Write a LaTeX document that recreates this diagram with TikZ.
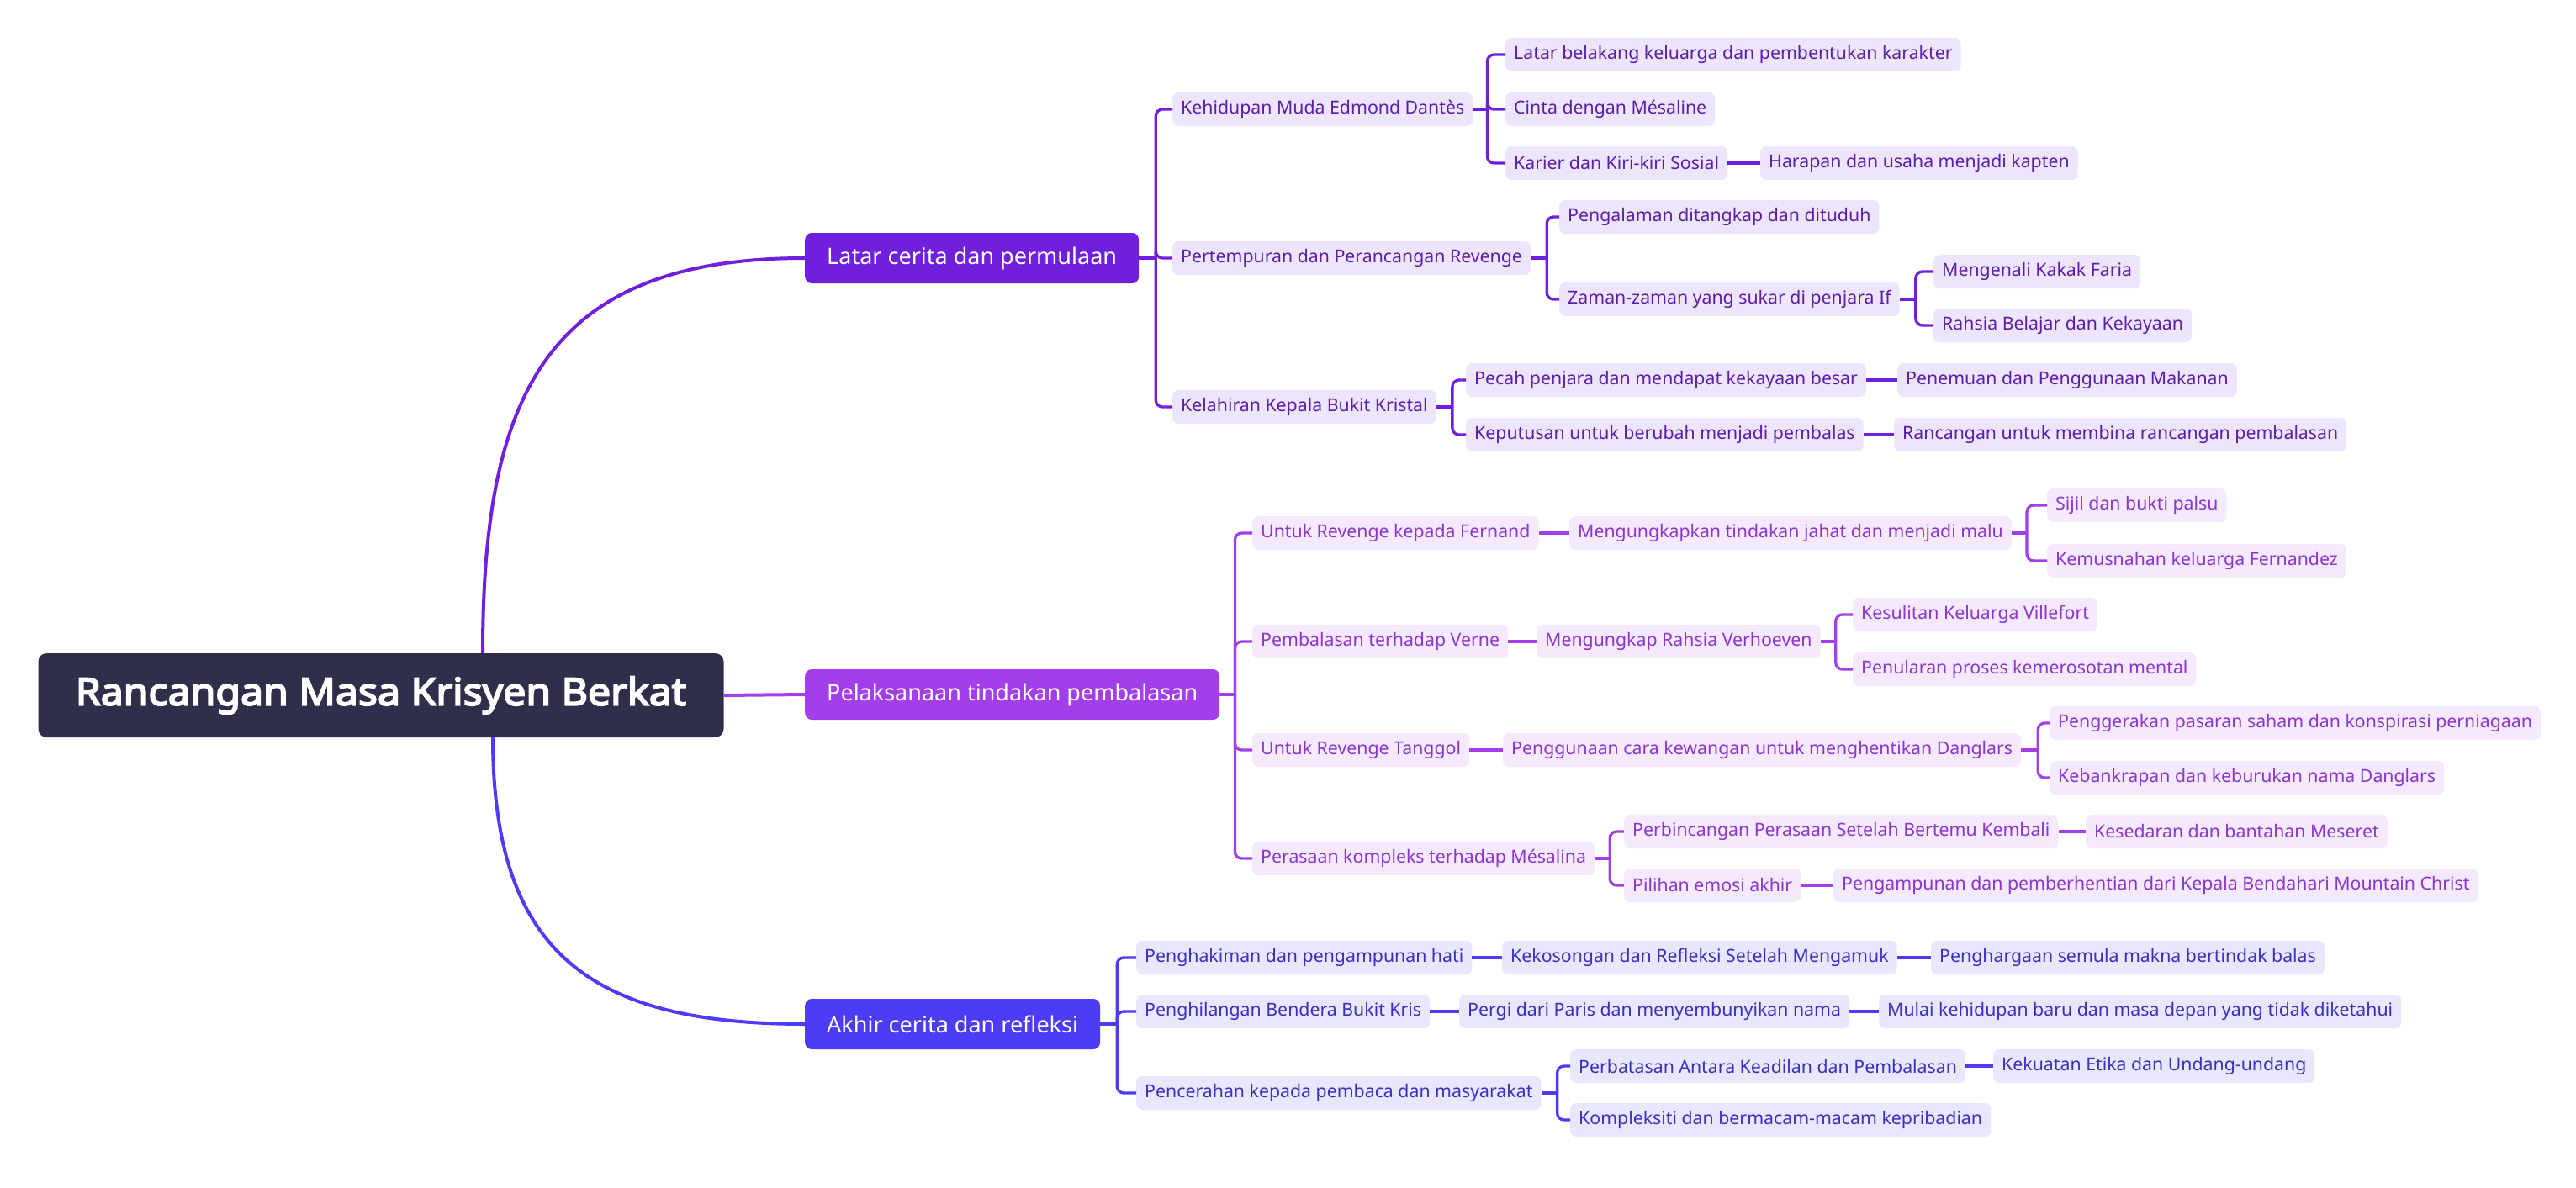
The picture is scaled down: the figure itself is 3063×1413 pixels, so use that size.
\documentclass[tikz,border=0pt]{standalone}
\usepackage{fontspec}
\setmainfont{Noto Sans}
\newfontfamily\rootfont{Noto Sans}[FakeBold=4, FakeStretch=1.07]
\usetikzlibrary{positioning}
\definecolor{rootbg}{HTML}{2F2F4B}
\definecolor{purA}{HTML}{7020DD}
\definecolor{purB}{HTML}{A23FEA}
\definecolor{purC}{HTML}{4D3CF5}
\definecolor{fillA}{HTML}{EDE5FB}
\definecolor{fillB}{HTML}{F4E9FD}
\definecolor{fillC}{HTML}{E9E7FD}
\definecolor{textA}{HTML}{5B1EA8}
\definecolor{textB}{HTML}{8B35CC}
\definecolor{textC}{HTML}{3A30C0}

\begin{document}
\begin{tikzpicture}[x=1pt, y=1pt,
  every node/.style={font=\fontsize{21.3}{25}\selectfont},
  rootbox/.style={fill=rootbg, text=white, rounded corners=10pt, minimum height=100pt,
    minimum width=815pt, font=\rootfont\fontsize{45}{52}\selectfont},
  topic/.style={fill=#1, text=white, rounded corners=8pt, minimum height=60pt,
    inner xsep=26pt, anchor=west, font=\fontsize{27}{32}\selectfont},
  leaf/.style={rounded corners=7pt, minimum height=40pt, inner xsep=10pt, anchor=west},
  leafA/.style={leaf, fill=fillA, text=textA},
  leafB/.style={leaf, fill=fillB, text=textB},
  leafC/.style={leaf, fill=fillC, text=textC},
  lineA/.style={draw=purA, line width=3.3pt},
  lineB/.style={draw=purB, line width=3.3pt},
  lineC/.style={draw=purC, line width=3.3pt},
  brA/.style={lineA, rounded corners=8pt},
  brB/.style={lineB, rounded corners=8pt},
  brC/.style={lineC, rounded corners=8pt}]
  \useasboundingbox (0,0) rectangle (3063,-1413);

  % root and main topics
  \node[rootbox] (root) at (453,-827) {Rancangan Masa Krisyen Berkat};
  \node[topic=purA] (latar) at (957,-307) {Latar cerita dan permulaan};
  \node[topic=purB] (pelaksanaan) at (957,-826) {Pelaksanaan tindakan pembalasan};
  \node[topic=purC] (akhir) at (957,-1218) {Akhir cerita dan refleksi};

  \draw[purA, line width=4pt] ([xshift=121pt]root.north) to[out=90, in=180, looseness=1.3] (latar.west);
  \draw[purB, line width=4pt] (root.east) -- (pelaksanaan.west);
  \draw[purC, line width=4pt] ([xshift=133pt]root.south) to[out=-90, in=180, looseness=1.3] (akhir.west);

  % branch 1
  \node[leafA] (kehidupan) at (1394,-130) {Kehidupan Muda Edmond Dantès};
  \node[leafA] (pertempuran) at (1394,-307) {Pertempuran dan Perancangan Revenge};
  \node[leafA] (kelahiran) at (1394,-484) {Kelahiran Kepala Bukit Kristal};
  \node[leafA] (latarbelakang) at (1790,-65) {Latar belakang keluarga dan pembentukan karakter};
  \node[leafA] (cinta) at (1790,-130) {Cinta dengan Mésaline};
  \node[leafA] (karier) at (1790,-194) {Karier dan Kiri-kiri Sosial};
  \node[leafA] (harapan) at (2093,-194) {Harapan dan usaha menjadi kapten};
  \node[leafA] (pengalaman) at (1854,-258) {Pengalaman ditangkap dan dituduh};
  \node[leafA] (zaman) at (1854,-356) {Zaman-zaman yang sukar di penjara If};
  \node[leafA] (faria) at (2299,-323) {Mengenali Kakak Faria};
  \node[leafA] (rahsia) at (2299,-387) {Rahsia Belajar dan Kekayaan};
  \node[leafA] (pecah) at (1743,-452) {Pecah penjara dan mendapat kekayaan besar};
  \node[leafA] (penemuan) at (2256,-452) {Penemuan dan Penggunaan Makanan};
  \node[leafA] (keputusan) at (1743,-517) {Keputusan untuk berubah menjadi pembalas};
  \node[leafA] (rancangan) at (2252,-517) {Rancangan untuk membina rancangan pembalasan};

  \draw[lineA] (latar.east) -- ++(20,0) coordinate (bA);
  \foreach \n in {kehidupan,pertempuran,kelahiran} \draw[brA] (bA) |- (\n.west);
  \draw[lineA] (kehidupan.east) -- ++(17,0) coordinate (bA1);
  \foreach \n in {latarbelakang,cinta,karier} \draw[brA] (bA1) |- (\n.west);
  \draw[lineA] (karier.east) -- (harapan.west);
  \draw[lineA] (pertempuran.east) -- ++(19,0) coordinate (bA2);
  \foreach \n in {pengalaman,zaman} \draw[brA] (bA2) |- (\n.west);
  \draw[lineA] (zaman.east) -- ++(19,0) coordinate (bA3);
  \foreach \n in {faria,rahsia} \draw[brA] (bA3) |- (\n.west);
  \draw[lineA] (kelahiran.east) -- ++(19,0) coordinate (bA4);
  \foreach \n in {pecah,keputusan} \draw[brA] (bA4) |- (\n.west);
  \draw[lineA] (pecah.east) -- (penemuan.west);
  \draw[lineA] (keputusan.east) -- (rancangan.west);

  % branch 2
  \node[leafB] (fernand) at (1489,-634) {Untuk Revenge kepada Fernand};
  \node[leafB] (mengungkapkan) at (1866,-634) {Mengungkapkan tindakan jahat dan menjadi malu};
  \node[leafB] (sijil) at (2434,-601) {Sijil dan bukti palsu};
  \node[leafB] (kemusnahan) at (2434,-667) {Kemusnahan keluarga Fernandez};
  \node[leafB] (verne) at (1489,-763) {Pembalasan terhadap Verne};
  \node[leafB] (verhoeven) at (1827,-763) {Mengungkap Rahsia Verhoeven};
  \node[leafB] (villefort) at (2203,-731) {Kesulitan Keluarga Villefort};
  \node[leafB] (penularan) at (2203,-796) {Penularan proses kemerosotan mental};
  \node[leafB] (tanggol) at (1489,-892) {Untuk Revenge Tanggol};
  \node[leafB] (kewangan) at (1787,-892) {Penggunaan cara kewangan untuk menghentikan Danglars};
  \node[leafB] (saham) at (2437,-860) {Penggerakan pasaran saham dan konspirasi perniagaan};
  \node[leafB] (bankrap) at (2437,-925) {Kebankrapan dan keburukan nama Danglars};
  \node[leafB] (mesalina) at (1489,-1021) {Perasaan kompleks terhadap Mésalina};
  \node[leafB] (perbincangan) at (1931,-989) {Perbincangan Perasaan Setelah Bertemu Kembali};
  \node[leafB] (kesedaran) at (2480,-989) {Kesedaran dan bantahan Meseret};
  \node[leafB] (pilihan) at (1931,-1053) {Pilihan emosi akhir};
  \node[leafB] (pengampunan) at (2180,-1053) {Pengampunan dan pemberhentian dari Kepala Bendahari Mountain Christ};

  \draw[lineB] (pelaksanaan.east) -- ++(18,0) coordinate (bB);
  \foreach \n in {fernand,verne,tanggol,mesalina} \draw[brB] (bB) |- (\n.west);
  \draw[lineB] (fernand.east) -- (mengungkapkan.west);
  \draw[lineB] (mengungkapkan.east) -- ++(18,0) coordinate (bB1);
  \foreach \n in {sijil,kemusnahan} \draw[brB] (bB1) |- (\n.west);
  \draw[lineB] (verne.east) -- (verhoeven.west);
  \draw[lineB] (verhoeven.east) -- ++(18,0) coordinate (bB2);
  \foreach \n in {villefort,penularan} \draw[brB] (bB2) |- (\n.west);
  \draw[lineB] (tanggol.east) -- (kewangan.west);
  \draw[lineB] (kewangan.east) -- ++(20,0) coordinate (bB3);
  \foreach \n in {saham,bankrap} \draw[brB] (bB3) |- (\n.west);
  \draw[lineB] (mesalina.east) -- ++(18,0) coordinate (bB4);
  \foreach \n in {perbincangan,pilihan} \draw[brB] (bB4) |- (\n.west);
  \draw[lineB] (perbincangan.east) -- (kesedaran.west);
  \draw[lineB] (pilihan.east) -- (pengampunan.west);

  % branch 3
  \node[leafC] (penghakiman) at (1351,-1139) {Penghakiman dan pengampunan hati};
  \node[leafC] (kekosongan) at (1786,-1139) {Kekosongan dan Refleksi Setelah Mengamuk};
  \node[leafC] (penghargaan) at (2296,-1139) {Penghargaan semula makna bertindak balas};
  \node[leafC] (penghilangan) at (1351,-1203) {Penghilangan Bendera Bukit Kris};
  \node[leafC] (pergi) at (1735,-1203) {Pergi dari Paris dan menyembunyikan nama};
  \node[leafC] (mulai) at (2234,-1203) {Mulai kehidupan baru dan masa depan yang tidak diketahui};
  \node[leafC] (pencerahan) at (1351,-1300) {Pencerahan kepada pembaca dan masyarakat};
  \node[leafC] (perbatasan) at (1867,-1268) {Perbatasan Antara Keadilan dan Pembalasan};
  \node[leafC] (etika) at (2370,-1268) {Kekuatan Etika dan Undang-undang};
  \node[leafC] (kompleksiti) at (1867,-1332) {Kompleksiti dan bermacam-macam kepribadian};

  \draw[lineC] (akhir.east) -- ++(20,0) coordinate (bC);
  \foreach \n in {penghakiman,penghilangan,pencerahan} \draw[brC] (bC) |- (\n.west);
  \draw[lineC] (penghakiman.east) -- (kekosongan.west);
  \draw[lineC] (kekosongan.east) -- (penghargaan.west);
  \draw[lineC] (penghilangan.east) -- (pergi.west);
  \draw[lineC] (pergi.east) -- (mulai.west);
  \draw[lineC] (pencerahan.east) -- ++(19,0) coordinate (bC1);
  \foreach \n in {perbatasan,kompleksiti} \draw[brC] (bC1) |- (\n.west);
  \draw[lineC] (perbatasan.east) -- (etika.west);
\end{tikzpicture}
\end{document}
